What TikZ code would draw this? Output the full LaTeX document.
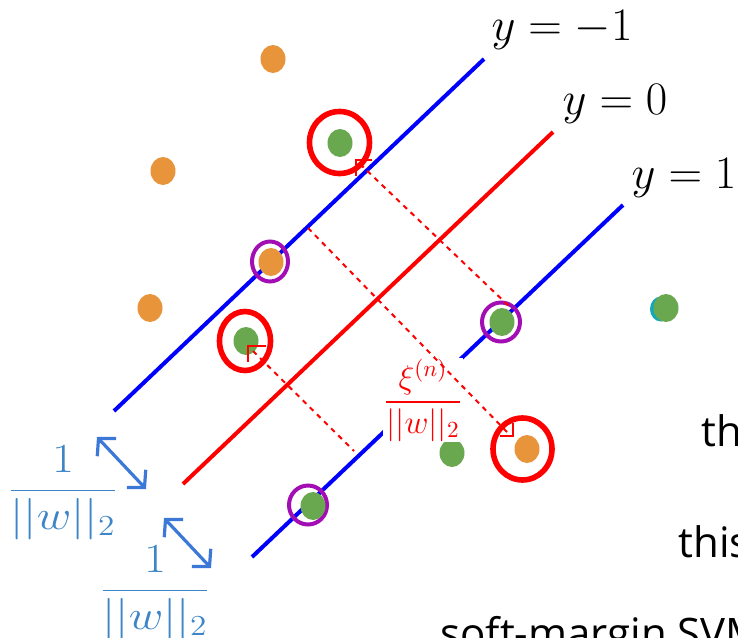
\RequirePackage{fix-cm}
\documentclass[tikz,border=0pt]{standalone}
\usepackage{amsmath,amssymb}
\usepackage{xcolor}
\usepackage{graphicx}
\usepackage{fontspec}
\newfontfamily\slidefont{Open Sans}
\usepackage{tikz}
\usetikzlibrary{shapes.geometric, arrows.meta, positioning}

\definecolor{ptorange}{HTML}{E8943A}
\definecolor{ptgreen}{HTML}{6AA84F}
\definecolor{ptcyan}{HTML}{12A8B8}
\definecolor{svpurple}{HTML}{A30DB4}
\definecolor{gapblue}{HTML}{3C78D8}
\definecolor{fracblue}{HTML}{3D85C6}

\begin{document}
\begin{tikzpicture}[
  x=0.5pt, y=-0.5pt,
  marginline/.style={draw=blue, line width=2pt},
  boundary/.style={draw=red, line width=2pt},
  dot/.style={ellipse, inner sep=0pt, minimum width=12.5pt, minimum height=14pt},
  orangept/.style={dot, fill=ptorange},
  greenpt/.style={dot, fill=ptgreen},
  errring/.style={draw=red, line width=2.8pt},
  svring/.style={draw=svpurple, line width=2pt},
  slack/.style={draw=red, line width=1pt, dash pattern=on 2.5pt off 2.5pt},
  rightmark/.style={draw=red, line width=1pt},
  gap/.style={draw=gapblue, line width=1.6pt,
              {Straight Barb[length=6pt,width=13pt]}-{Straight Barb[length=6pt,width=13pt]}},
  lineeq/.style={font=\fontsize{23.3}{28}\selectfont, inner sep=0pt},
  margineq/.style={text=fracblue, font=\fontsize{20.7}{25}\selectfont, inner sep=0pt},
  slackeq/.style={text=red, fill=white, font=\fontsize{16.5}{20}\selectfont, inner sep=0.5pt},
  slidetext/.style={font=\slidefont\fontsize{21}{25}\selectfont, anchor=base west, inner sep=0pt},
]
  \useasboundingbox (0,0) rectangle (738,637);
  \clip (0,0) rectangle (738,637);

  % the three lines
  \coordinate (neglo) at (114,411);  \coordinate (neghi) at (484,59);
  \coordinate (zerlo) at (183,484);  \coordinate (zerhi) at (553,132);
  \coordinate (poslo) at (252,557);  \coordinate (poshi) at (623,205);
  \draw[marginline] (neglo) -- (neghi);
  \draw[boundary] (zerlo) -- (zerhi);
  \draw[marginline] (poslo) -- (poshi);
  \node[lineeq] (negeq) at (562,30) {$y=-1$};
  \node[lineeq] (zereq) at (615,104) {$y=0$};
  \node[lineeq] (poseq) at (684,178) {$y=1$};

  % rings
  \draw[errring] (339.5,142.5) circle [x radius=30, y radius=31];
  \draw[errring] (245,341) circle [x radius=25.5, y radius=29.5];
  \draw[errring] (522.5,449) circle [x radius=29.5, y radius=31];
  \draw[svring] (270,261.5) circle [x radius=18, y radius=20];
  \draw[svring] (501,322) circle [x radius=19, y radius=19.5];
  \draw[svring] (308,505) circle [x radius=19, y radius=19.5];

  % data points
  \node[orangept] (o1) at (273,59) {};
  \node[orangept] (o2) at (163,171) {};
  \node[orangept] (o3) at (150,308) {};
  \node[orangept] (o4) at (271,262) {};
  \node[orangept] (o5) at (527,449) {};
  \node[greenpt] (g1) at (340,143) {};
  \node[greenpt] (g2) at (246,341) {};
  \node[greenpt] (g3) at (502,322) {};
  \node[greenpt] (g4) at (313,506) {};
  \node[greenpt] (g5) at (452,453) {};
  \node[dot, fill=ptcyan, minimum width=11pt, minimum height=12.5pt] (c1) at (661,309) {};
  \node[greenpt] (g6) at (666,308) {};

  \node[slackeq] (xi) at (423,400) {$\dfrac{\xi^{(n)}}{||w||_2}$};

  % slack distances
  \coordinate (s1a) at (360,164);  \coordinate (s1b) at (512,309);
  \coordinate (s2a) at (253,351);  \coordinate (s2b) at (354,451);
  \coordinate (s3a) at (308,228);  \coordinate (s3b) at (508,433);
  \draw[slack] (s1a) -- (s1b);
  \draw[slack] (s2a) -- (s2b);
  \draw[slack] (s3a) -- (s3b);
  \draw[rightmark] (356,160) ++(16,0) -- ++(-16,0) -- ++(0,16);
  \draw[rightmark] (248,346) ++(18,0) -- ++(-18,0) -- ++(0,16);
  \draw[rightmark] (513,436) ++(-13,0) -- ++(13,0) -- ++(0,-13);

  % margin width
  \coordinate (a1a) at (97,437);   \coordinate (a1b) at (146,489);
  \coordinate (a2a) at (164,518);  \coordinate (a2b) at (211,568);
  \draw[gap] (a1a) -- (a1b);
  \draw[gap] (a2a) -- (a2b);
  \node[margineq] (gap1) at (63,493) {\scalebox{1.15}[1]{$\dfrac{1}{||w||_2}$}};
  \node[margineq] (gap2) at (155,593) {\scalebox{1.15}[1]{$\dfrac{1}{||w||_2}$}};

  \node[slidetext] (txt1) at (701,446) {th};
  \node[slidetext] (txt2) at (678,557) {this};
  \node[slidetext] (txt3) at (440,648) {soft-margin SVM};
\end{tikzpicture}
\end{document}
